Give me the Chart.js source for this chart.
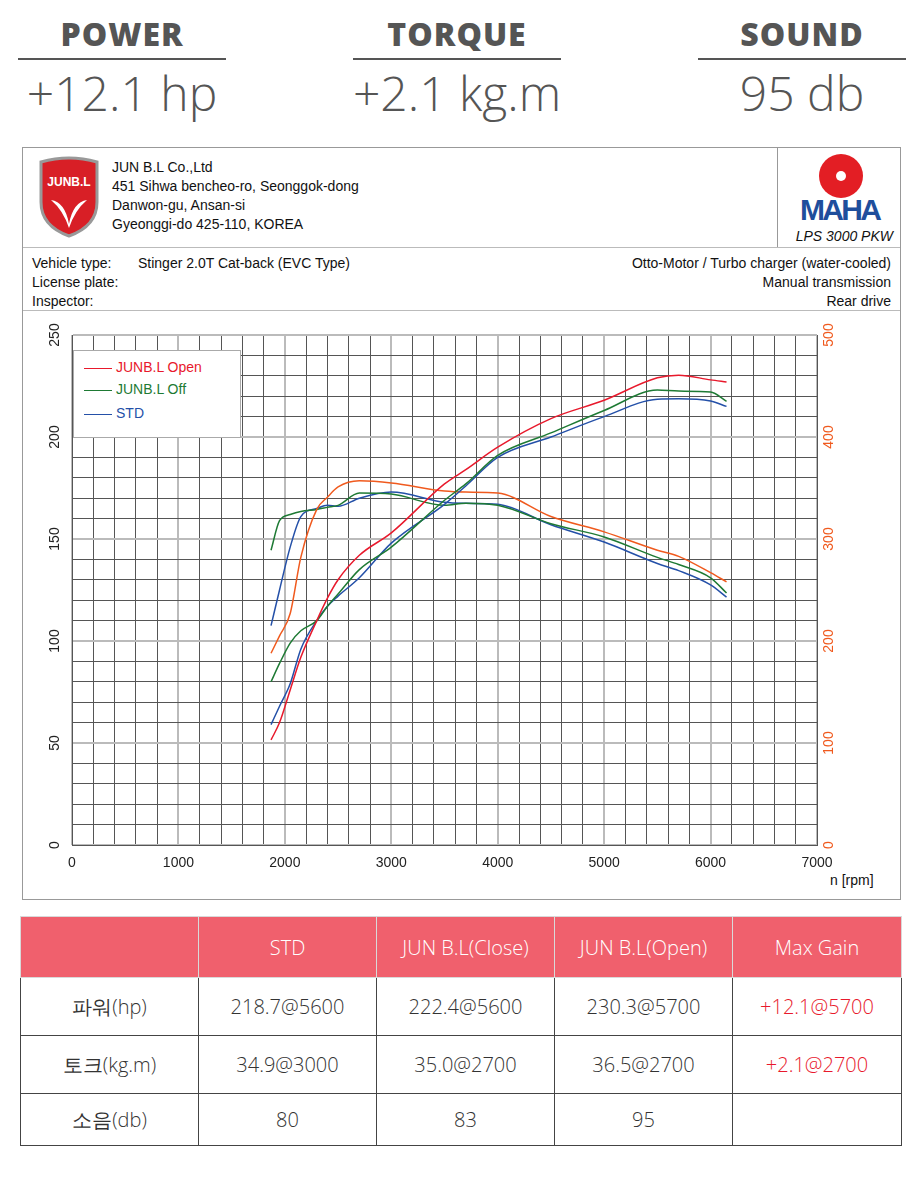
<!DOCTYPE html>
<html>
<head>
<meta charset="utf-8">
<script src="https://cdn.jsdelivr.net/npm/chart.js@4"></script>
<style>
  body { margin: 0; width: 924px; height: 1197px; background: #fff; font-family: "Open Sans", sans-serif; position: relative; overflow: hidden; }
  .stat { position: absolute; top: 14px; width: 208px; text-align: center; color: #555; }
  .stat h2 { margin: 0; font-size: 32px; font-weight: 800; letter-spacing: 1px; line-height: 40px; border-bottom: 2px solid #555; padding-bottom: 4px; font-family: "Open Sans", sans-serif; }
  .stat div { font-size: 48px; font-weight: 300; margin-top: 6px; line-height: 54px; white-space: nowrap; margin-left: -30px; margin-right: -30px; }
  #box { position: absolute; left: 22px; top: 147px; width: 877px; height: 751px; border: 1px solid #999; font-family: "Liberation Sans", Arial, sans-serif; font-size: 14px; color: #111; }
  .row { position: absolute; left: 0; right: 0; border-bottom: 1px solid #bbb; }
  #legend { position: absolute; left: 73px; top: 350px; width: 166px; height: 86px; border: 1px solid #aaa; background: #fff; font-family: "Liberation Sans", Arial, sans-serif; font-size: 14px; }
  #legend div { position: absolute; left: 10px; }
  #legend span { display: inline-block; width: 28px; height: 0; border-top: 1.5px solid; vertical-align: middle; margin-right: 4px; }
  table { position: absolute; left: 20px; top: 916px; width: 882px; border-collapse: collapse; table-layout: fixed; font-family: "Open Sans", sans-serif; font-size: 20px; font-weight: 300; color: #333; }
  td { border: 1px solid #444; text-align: center; }
  tr.h td { background: #f0606d; color: #fff; height: 58px; border-color: #d9d9d9; }
  .red { color: #e8192c; }
</style>
</head>
<body>
<div class="stat" style="left:18px"><h2>POWER</h2><div>+12.1 hp</div></div>
<div class="stat" style="left:353px"><h2>TORQUE</h2><div>+2.1 kg.m</div></div>
<div class="stat" style="left:698px"><h2>SOUND</h2><div>95 db</div></div>

<div id="box">
  <div class="row" style="top:0;height:99px">
    <svg style="position:absolute;left:14px;top:8px" width="64" height="82" viewBox="0 0 64 82">
      <path d="M4 6 Q32 -2 60 6 L60 46 Q60 70 32 80 Q4 70 4 46 Z" fill="#d81f26" stroke="#999" stroke-width="3"/>
      <text x="32" y="30" font-size="12" font-weight="bold" fill="#fff" text-anchor="middle" font-family="Liberation Sans">JUNB.L</text>
      <path d="M14 44 Q28 46 32 68 Q36 46 50 44 Q38 54 32 72 Q26 54 14 44Z" fill="#fff"/>
    </svg>
    <div style="position:absolute;left:89px;top:10px;line-height:19px">JUN B.L Co.,Ltd<br>451 Sihwa bencheo-ro, Seonggok-dong<br>Danwon-gu, Ansan-si<br>Gyeonggi-do 425-110, KOREA</div>
    <div style="position:absolute;left:754px;top:0;width:123px;height:99px;border-left:1px solid #999">
      <svg style="position:absolute;left:18px;top:4px" width="90" height="72" viewBox="0 0 90 72">
        <circle cx="45" cy="24" r="22" fill="#e31e24"/>
        <circle cx="45" cy="24" r="5" fill="#fff"/>
        <text x="45" y="68" font-size="30" font-weight="bold" fill="#1f4e9c" text-anchor="middle" font-family="Liberation Sans" textLength="82">MAHA</text>
      </svg>
      <div style="position:absolute;right:8px;top:80px;font-style:italic">LPS 3000 PKW</div>
    </div>
  </div>
  <div class="row" style="top:100px;height:62px;line-height:19px">
    <div style="position:absolute;left:9px;top:6px">Vehicle type:<br>License plate:<br>Inspector:</div>
    <div style="position:absolute;left:115px;top:6px">Stinger 2.0T Cat-back (EVC Type)</div>
    <div style="position:absolute;right:9px;top:6px;text-align:right">Otto-Motor / Turbo charger (water-cooled)<br>Manual transmission<br>Rear drive</div>
  </div>
  <div style="position:absolute;left:807px;top:724px">n [rpm]</div>
</div>
<canvas id="c" style="position:absolute;left:22px;top:310px"></canvas>
<div id="legend">
  <div style="top:8px;color:#e8192c"><span style="border-color:#e8192c"></span>JUNB.L Open</div>
  <div style="top:30px;color:#1e7a34"><span style="border-color:#1e7a34"></span>JUNB.L Off</div>
  <div style="top:54px;color:#2450a8"><span style="border-color:#2450a8"></span>STD</div>
</div>

<table>
  <tr class="h"><td style="width:175px"></td><td style="width:175px">STD</td><td style="width:175px">JUN B.L(Close)</td><td style="width:175px">JUN B.L(Open)</td><td>Max Gain</td></tr>
  <tr style="height:58px"><td>파워(hp)</td><td>218.7@5600</td><td>222.4@5600</td><td>230.3@5700</td><td class="red">+12.1@5700</td></tr>
  <tr style="height:58px"><td>토크(kg.m)</td><td>34.9@3000</td><td>35.0@2700</td><td>36.5@2700</td><td class="red">+2.1@2700</td></tr>
  <tr style="height:52px"><td>소음(db)</td><td>80</td><td>83</td><td>95</td><td></td></tr>
</table>

<script>
// rpm sample points
const rpm = [1870, 1950, 2050, 2150, 2300, 2400, 2500, 2700, 3000, 3500, 3700, 4000, 4500, 5000, 5500, 5700, 6000, 6150];

// power [hp], left axis
const powerOpen = [51.5, 60, 76, 92, 110, 121, 130, 142, 153, 177, 184, 195, 209, 218, 229, 230.3, 228, 227];
const powerOff  = [80, 89, 99, 105, 110, 117, 123, 135, 146, 169, 177, 191, 202, 213, 223, 222.5, 222, 217.5];
const powerStd  = [59, 68, 79, 96, 110, 117, 122, 131, 148, 167, 176, 190, 200, 210, 218.5, 218.7, 217.6, 215];

// torque [Nm], right axis
const torqueOpen = [188, 205, 227, 282, 329, 341, 351, 357, 355, 347, 346, 345, 322, 307, 289, 283, 267, 258];
const torqueOff  = [289, 318, 324, 327, 329, 331, 333, 345, 344, 333, 335, 333, 315, 302, 282, 275, 262, 247];
const torqueStd  = [215, 250, 292, 322, 330, 333, 332, 340, 346, 336, 335, 334, 314, 297, 276, 269, 255, 243];

const leftTicks = [0, 50, 100, 150, 200, 250];
const rightTicks = [0, 100, 200, 300, 400, 500];
const xTicks = [0, 1000, 2000, 3000, 4000, 5000, 6000, 7000];

const RED = '#e8192c', ORANGE = '#f05a1e', GREEN = '#1e7a34', BLUE = '#2450a8';

function series(ys, color, axis) {
  return {
    data: rpm.map((r, i) => ({ x: r, y: ys[i] })),
    borderColor: color, borderWidth: 1.5, pointRadius: 0,
    tension: 0.4, cubicInterpolationMode: 'monotone', yAxisID: axis
  };
}

// vertical tick labels drawn via the scales
const rotatedTicks = {
  id: 'rotatedTicks',
  afterDraw(chart) {
    const c = chart.ctx;
    c.save();
    c.font = '14px "Liberation Sans", Arial, sans-serif';
    c.textAlign = 'center';
    c.textBaseline = 'middle';
    const yl = chart.scales.y, yr = chart.scales.y1;
    leftTicks.forEach(v => {
      c.save(); c.translate(yl.right - 17, yl.getPixelForValue(v)); c.rotate(-Math.PI / 2);
      c.fillStyle = '#222'; c.fillText(String(v), 0, 0); c.restore();
    });
    rightTicks.forEach(v => {
      c.save(); c.translate(yr.left + 12, yr.getPixelForValue(v)); c.rotate(-Math.PI / 2);
      c.fillStyle = ORANGE; c.fillText(String(v), 0, 0); c.restore();
    });
    c.restore();
  }
};

const canvas = document.getElementById('c');
canvas.width = 878; canvas.height = 588;
canvas.style.width = '878px'; canvas.style.height = '588px';

new Chart(canvas.getContext('2d'), {
  type: 'line',
  data: {
    datasets: [
      series(powerOpen, RED, 'y'),
      series(powerOff, GREEN, 'y'),
      series(powerStd, BLUE, 'y'),
      series(torqueOpen, ORANGE, 'y1'),
      series(torqueOff, GREEN, 'y1'),
      series(torqueStd, BLUE, 'y1')
    ]
  },
  options: {
    responsive: false,
    animation: false,
    layout: { padding: { top: 25 } },
    plugins: { legend: { display: false }, tooltip: { enabled: false } },
    scales: {
      x: {
        type: 'linear', min: 0, max: 7000,
        afterFit: s => { s.height = 53; },
        ticks: {
          stepSize: 200, autoSkip: false, maxRotation: 0, color: '#222', padding: 10,
          font: { family: '"Liberation Sans", Arial, sans-serif', size: 14 },
          callback: v => xTicks.includes(v) ? String(v) : ''
        },
        grid: {
          color: ctx => ctx.tick && ctx.tick.value % 1000 === 0 ? '#bbb' : '#555',
          lineWidth: ctx => ctx.tick && ctx.tick.value % 1000 === 0 ? 2 : 1,
          drawTicks: false
        },
        border: { color: '#555' }
      },
      y: {
        min: 0, max: 250, position: 'left',
        afterFit: s => { s.width = 50; },
        ticks: { stepSize: 10, display: false },
        grid: {
          color: ctx => ctx.tick && ctx.tick.value % 50 === 0 ? '#bbb' : '#555',
          lineWidth: ctx => ctx.tick && ctx.tick.value % 50 === 0 ? 2 : 1,
          drawTicks: false
        },
        border: { color: '#555' }
      },
      y1: {
        min: 0, max: 500, position: 'right',
        afterFit: s => { s.width = 83; },
        ticks: { stepSize: 20, display: false },
        grid: { drawOnChartArea: false, drawTicks: false },
        border: { color: '#555' }
      }
    }
  },
  plugins: [rotatedTicks]
});
</script>
</body>
</html>
